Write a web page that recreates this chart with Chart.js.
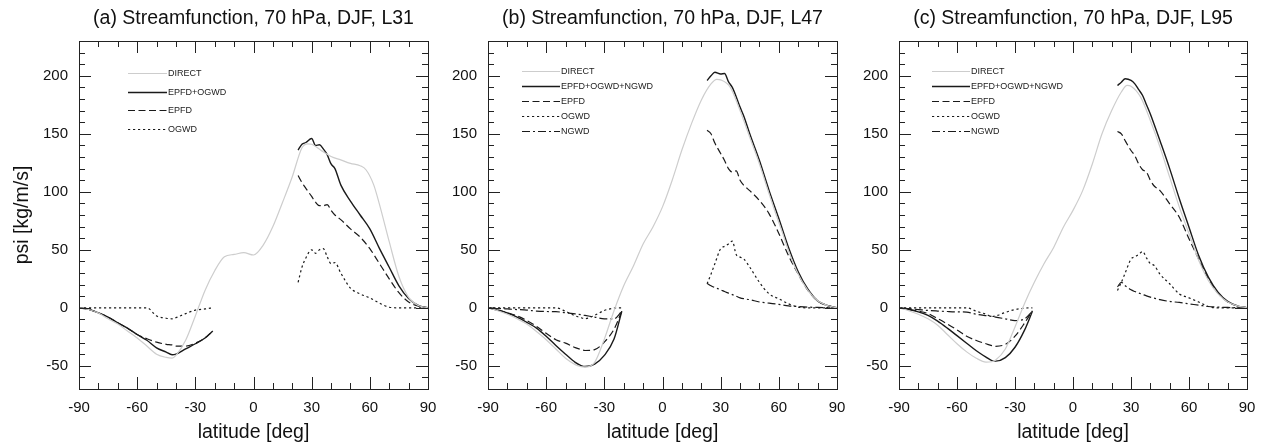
<!DOCTYPE html>
<html>
<head>
<meta charset="utf-8">
<script src="https://cdn.jsdelivr.net/npm/chart.js@4.4.1/dist/chart.umd.min.js"></script>
<style>
  html, body { margin: 0; padding: 0; background: #fff; }
  body { width: 1264px; height: 445px; position: relative; overflow: hidden; }
  canvas { position: absolute; top: 0; }
</style>
</head>
<body>
<canvas id="panelA" width="445" height="445" style="left:0px"></canvas>
<canvas id="panelB" width="430" height="445" style="left:430px"></canvas>
<canvas id="panelC" width="414" height="445" style="left:850px"></canvas>
<script>
// axis ticks
const xTicks = [-90, -60, -30, 0, 30, 60, 90];
const yTicks = [-50, 0, 50, 100, 150, 200];

// latitudes
const latDirect = [-90,-85,-80,-75,-70,-65,-60,-55,-50,-45,-42,-40,-35,-30,-25,-20,-15,-10,-5,0,
                   5,10,15,20,25,28,30,35,40,45,50,55,58,62,65,70,75,80,85,90];
const latSH = [-90,-85,-80,-75,-70,-65,-60,-55,-50,-45,-42,-40,-35,-30,-25,-21];
const latNH = [23,25,27,30,32,34,36,38,40,42,45,50,55,60,65,70,75,80,85,90];

// (a) L31
const directA = [0,-1.5,-4.5,-9.5,-14,-20,-26,-33,-40,-42.8,-43.4,-41,-28,-7,15,32,44,46,47.5,45.5,
                 54,70,91,113,138,141.4,141,135.5,130.5,127.5,124.5,122.5,119,106,89,57,27,9,2,0];
const totalA_SH = [0,-1.4,-4.3,-8,-13,-17.6,-23,-28,-34.5,-38.2,-40.5,-40,-35.4,-31,-26,-20];
const totalA_NH = [136,141,142.5,146,140,140.5,137,132,124,120,106,92,80,68,51,35,19,8,2,0];
const epfdA_SH = [0,-1.4,-4.3,-8,-13,-17.6,-23,-26.7,-29.6,-31.5,-32,-33,-33,-30.5,-26,-20];
const epfdA_NH = [114,108,103,96,91,88,88,89,84,80,76,68,61,51,38,25,13,5,1.5,0];
const ogwdA_SH = [0,0,0,0,0,0,0,0,-7,-9,-9.5,-8.5,-5,-2,-1,0];
const ogwdA_NH = [22,35,43,50,47,50,51,44,38,39,30,17,12,8.5,4,0.5,0,0,0,0];

// (b) L47
const directB = [0,-2.5,-5.5,-9.5,-14,-20.5,-27.5,-35.5,-43.5,-49,-50.8,-51,-47,-27,-2.5,19,36,55,69.5,87,
                 110,136,159,179,193,197,196.5,190,170,147,124,98,83,64,49,29,15,6,2,0];
const totalB_SH = [0,-2,-4.5,-8,-12.5,-17.5,-24.5,-32.5,-40,-47,-49.8,-50.6,-48.5,-41,-27,-3];
const totalB_NH = [196,200,203,201.5,202,195,190,182,173,165,150,127,101,77,52,31,16,6,2,0];
const epfdB_SH = [0,-1.8,-4.3,-7,-11,-16,-22,-27.5,-30.5,-34.3,-36,-36.8,-36,-29.6,-18.5,-3];
const epfdB_NH = [153,150,142,133,127,120,117,118,110,105.5,101,92.5,81,64,45,29,15,6,2,0];
const ogwdB_SH = [0,0,0,0,0,0,0,0,-3,-7,-8.6,-9.3,-6.5,-2.3,-0.3,0];
const ogwdB_NH = [20.7,29,38,51,53,55,57.5,46,43.7,42,35,22,12,7.8,3.4,0.6,0,0,0,0];
const ngwdB_SH = [0,-0.5,-1,-1.5,-2,-2.8,-3.2,-3.3,-4.3,-5.3,-6,-6.6,-8,-9.5,-9.5,-3];
const ngwdB_NH = [21,19,17.5,15.5,14,12.7,11.4,10,8.6,7.8,7,5,4,3,1.7,1.1,0.6,0.3,0.1,0];

// (c) L95
const directC = [0,-2.5,-5.5,-9.5,-15,-23,-31,-38,-43.5,-46.8,-46.5,-45,-35.5,-16.5,4,22,38,52,69.5,84,
                 101,124,150,170,186,191.7,191,181.6,161.5,138.5,112.6,86.8,73,55,41,23.6,12,5,1.7,0];
const totalC_SH = [0,-1.5,-3.5,-6.6,-11.5,-17.5,-24,-30.5,-37,-42.5,-45.5,-46,-43,-34,-19,-3];
const totalC_NH = [191.7,194.5,197.4,196,193,188,183,175,167,158,144,120,94,69.5,45,26.4,13.5,5.5,1.7,0];
const epfdC_SH = [0,-1.2,-2.8,-5,-9.3,-14,-19,-24.5,-28.2,-31,-32.6,-33.2,-31.5,-24.5,-13,-2.5];
const epfdC_NH = [152,150,144,135.6,131,124,119,117,110,105,101,89.6,78,59.5,42,25,12.6,5,1.7,0];
const ogwdC_SH = [0,0,0,0,0,0,0,0,-3,-5.5,-7.5,-7,-4,-1.5,-0.3,0];
const ogwdC_NH = [15,22,30,42,44,46,48.5,43,38,36.5,29,20.7,12,8.6,5,1.1,0,0,0,0];
const ngwdC_SH = [0,-0.8,-1.5,-2.3,-2.8,-3.2,-3.5,-3.7,-5.5,-6.8,-7.5,-8,-9.5,-11,-9.5,-2.8];
const ngwdC_NH = [18,22,19,15.5,14,12.7,11.5,10.3,9.2,8.3,7,5.5,4.6,3.4,2.3,1.1,0.6,0.3,0.1,0];

Chart.defaults.font.family = '"Liberation Sans", Arial, Helvetica, sans-serif';
Chart.defaults.color = '#111';

const zip = (xs, ys) => xs.map((x, i) => ({ x: x, y: ys[i] }));
// SH and NH pieces with a break in between
const split = (sh, nh) => zip(latSH, sh).concat([{ x: 0, y: null }], zip(latNH, nh));

const styles = {
  DIRECT: { borderColor: '#cdcdcd', borderWidth: 1.2, borderDash: [] },
  TOTAL:  { borderColor: '#1a1a1a', borderWidth: 1.4, borderDash: [] },
  EPFD:   { borderColor: '#1a1a1a', borderWidth: 1.2, borderDash: [7, 3.5] },
  OGWD:   { borderColor: '#1a1a1a', borderWidth: 1.2, borderDash: [2.2, 2.8] },
  NGWD:   { borderColor: '#1a1a1a', borderWidth: 1.2, borderDash: [8, 3, 2, 3] }
};

const ds = (label, kind, data) => Object.assign({
  label: label, data: data, pointRadius: 0, fill: false,
  cubicInterpolationMode: 'monotone', spanGaps: false
}, styles[kind]);

// box + inward ticks on all four sides
const frameTicks = {
  id: 'frameTicks',
  afterDatasetsDraw(chart) {
    const { ctx, chartArea: a, scales: { x, y } } = chart;
    ctx.save();
    ctx.strokeStyle = '#222';
    ctx.lineWidth = 1;
    ctx.beginPath();
    for (let v = -90; v <= 90; v += 10) {
      const px = Math.round(x.getPixelForValue(v)) + 0.5;
      const len = xTicks.includes(v) ? 12 : 6;
      ctx.moveTo(px, a.bottom); ctx.lineTo(px, a.bottom - len);
      ctx.moveTo(px, a.top); ctx.lineTo(px, a.top + len);
    }
    for (let v = -70; v <= 230; v += 10) {
      const py = Math.round(y.getPixelForValue(v)) + 0.5;
      const len = yTicks.includes(v) ? 12 : 6;
      ctx.moveTo(a.left, py); ctx.lineTo(a.left + len, py);
      ctx.moveTo(a.right, py); ctx.lineTo(a.right - len, py);
    }
    ctx.stroke();
    ctx.strokeRect(Math.round(a.left) + 0.5, Math.round(a.top) + 0.5,
                   Math.round(a.right - a.left), Math.round(a.bottom - a.top));
    ctx.restore();
  }
};

// NCL-style line key inside the plot
const lineKey = {
  id: 'lineKey',
  afterDatasetsDraw(chart, args, opts) {
    const { ctx, chartArea: a } = chart;
    ctx.save();
    ctx.font = '9px "Liberation Sans", Arial, sans-serif';
    ctx.fillStyle = '#222';
    ctx.textBaseline = 'middle';
    chart.data.datasets.forEach((d, i) => {
      const yy = Math.round(a.top + opts.y0 + i * opts.dy) + 0.5;
      ctx.strokeStyle = d.borderColor;
      ctx.lineWidth = d.borderWidth;
      ctx.setLineDash(d.borderDash || []);
      ctx.beginPath();
      ctx.moveTo(a.left + opts.x0, yy);
      ctx.lineTo(a.left + opts.x1, yy);
      ctx.stroke();
      ctx.fillText(d.label, a.left + opts.x1 + 1, yy);
    });
    ctx.restore();
  }
};

function makePanel(id, title, datasets, leftW, rightPad, yTitle, key) {
  return new Chart(document.getElementById(id), {
    type: 'line',
    data: { datasets: datasets },
    plugins: [frameTicks, lineKey],
    options: {
      responsive: false,
      animation: false,
      devicePixelRatio: 1,
      layout: { padding: { left: 0, right: rightPad, top: 0, bottom: 0 } },
      plugins: {
        legend: { display: false },
        tooltip: { enabled: false },
        title: {
          display: true, text: title, fullSize: false, color: '#111',
          font: { size: 19.5, weight: 'normal', lineHeight: 1.2 },
          padding: { top: 7, bottom: 10.6 }
        },
        lineKey: key
      },
      scales: {
        x: {
          type: 'linear', min: -90, max: 90,
          afterBuildTicks: s => { s.ticks = xTicks.map(v => ({ value: v })); },
          afterFit: s => { s.height = 56; s.paddingLeft = 0; s.paddingRight = 0; },
          grid: { display: false, drawTicks: false },
          border: { display: false },
          ticks: { padding: 10, maxRotation: 0, autoSkip: false, color: '#111', font: { size: 15 } },
          title: {
            display: true, text: 'latitude [deg]', color: '#111',
            font: { size: 19.5, lineHeight: 1.2 }, padding: { top: 0, bottom: 1 }
          }
        },
        y: {
          type: 'linear', min: -70, max: 230,
          afterBuildTicks: s => { s.ticks = yTicks.map(v => ({ value: v })); },
          afterFit: s => { s.width = leftW; s.paddingTop = 0; s.paddingBottom = 0; },
          grid: { display: false, drawTicks: false },
          border: { display: false },
          ticks: { padding: 11, autoSkip: false, color: '#111', font: { size: 15 } },
          title: {
            display: !!yTitle, text: yTitle || '', color: '#111',
            font: { size: 19.5, lineHeight: 1.2 }, padding: { top: 10.5, bottom: 0 }
          }
        }
      }
    }
  });
}

makePanel('panelA', '(a) Streamfunction, 70 hPa, DJF, L31', [
  ds('DIRECT', 'DIRECT', zip(latDirect, directA)),
  ds('EPFD+OGWD', 'TOTAL', split(totalA_SH, totalA_NH)),
  ds('EPFD', 'EPFD', split(epfdA_SH, epfdA_NH)),
  ds('OGWD', 'OGWD', split(ogwdA_SH, ogwdA_NH))
], 79, 17, 'psi [kg/m/s]', { x0: 49, x1: 88, y0: 32, dy: 18.7 });

makePanel('panelB', '(b) Streamfunction, 70 hPa, DJF, L47', [
  ds('DIRECT', 'DIRECT', zip(latDirect, directB)),
  ds('EPFD+OGWD+NGWD', 'TOTAL', split(totalB_SH, totalB_NH)),
  ds('EPFD', 'EPFD', split(epfdB_SH, epfdB_NH)),
  ds('OGWD', 'OGWD', split(ogwdB_SH, ogwdB_NH)),
  ds('NGWD', 'NGWD', split(ngwdB_SH, ngwdB_NH))
], 58, 23, null, { x0: 34, x1: 72, y0: 30, dy: 15 });

makePanel('panelC', '(c) Streamfunction, 70 hPa, DJF, L95', [
  ds('DIRECT', 'DIRECT', zip(latDirect, directC)),
  ds('EPFD+OGWD+NGWD', 'TOTAL', split(totalC_SH, totalC_NH)),
  ds('EPFD', 'EPFD', split(epfdC_SH, epfdC_NH)),
  ds('OGWD', 'OGWD', split(ogwdC_SH, ogwdC_NH)),
  ds('NGWD', 'NGWD', split(ngwdC_SH, ngwdC_NH))
], 49, 17, null, { x0: 33, x1: 71, y0: 30, dy: 15 });
</script>
</body>
</html>
